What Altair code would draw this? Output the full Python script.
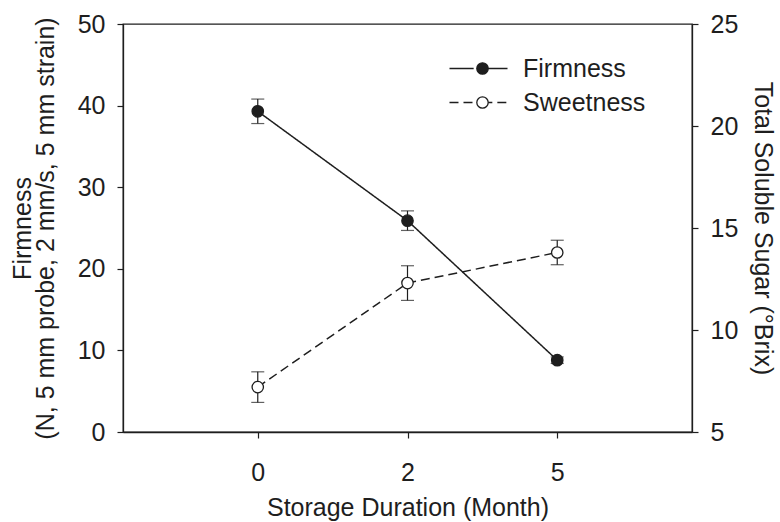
import altair as alt
import pandas as pd

# ---- data ----
months = ["0", "2", "5"]
firmness = [39.3, 25.9, 8.8]
firmness_err = [1.5, 1.2, 0.4]
sweetness = [7.2, 12.3, 13.8]
sweetness_err = [0.75, 0.85, 0.6]
series_names = ["Firmness", "Sweetness"]
# marker legend uses a distinct domain so Vega-Lite does not merge it with the line legend
marker_names = ["Firmness ", "Sweetness "]

FONT = "Liberation Sans"
INK = "#1e1e1e"
FS = 25


def frame(vals, errs, name, marker):
    return pd.DataFrame({
        "Month": months,
        "value": vals,
        "lo": [v - e for v, e in zip(vals, errs)],
        "hi": [v + e for v, e in zip(vals, errs)],
        "series": name,
        "marker": marker,
    })


df_f = frame(firmness, firmness_err, series_names[0], marker_names[0])
df_s = frame(sweetness, sweetness_err, series_names[1], marker_names[1])

x_enc = alt.X(
    "Month:O", sort=months,
    scale=alt.Scale(type="point", padding=0.9),
    axis=alt.Axis(title="Storage Duration (Month)", labelAngle=0,
                  labelPadding=22, titlePadding=10),
)

dash_scale = alt.Scale(domain=series_names, range=[[1, 0], [9, 5]])
fill_scale = alt.Scale(domain=marker_names, range=[INK, "white"])

line_legend = alt.Legend(
    title=None, orient="none", legendX=343, legendY=32,
    symbolType="M-3,0H-0.5M0.5,0H3", symbolSize=374,
    symbolStrokeColor=INK, symbolStrokeWidth=1.5,
    labelFont=FONT, labelFontSize=FS, labelColor=INK, labelOffset=32,
    rowPadding=8, padding=0,
)
point_legend = alt.Legend(
    title=None, orient="none", legendX=347, legendY=32,
    symbolType="circle", symbolSize=130,
    symbolStrokeColor=INK, symbolStrokeWidth=1.3,
    labelFont=FONT, labelFontSize=FS, labelExpr="''",
    rowPadding=8, padding=0,
)


def layer(df, y_scale, y_axis):
    base = alt.Chart(df)
    y = alt.Y("value:Q", scale=y_scale, axis=y_axis)
    line = base.mark_line(color=INK, strokeWidth=1.5).encode(
        x=x_enc, y=y,
        strokeDash=alt.StrokeDash("series:N", scale=dash_scale, legend=line_legend),
    )
    rule = base.mark_rule(color=INK, strokeWidth=1.2).encode(
        x=x_enc, y=alt.Y("lo:Q"), y2="hi:Q")
    cap_lo = base.mark_tick(color=INK, thickness=1.2, size=13, orient="horizontal").encode(
        x=x_enc, y=alt.Y("lo:Q"))
    cap_hi = base.mark_tick(color=INK, thickness=1.2, size=13, orient="horizontal").encode(
        x=x_enc, y=alt.Y("hi:Q"))
    pts = base.mark_point(filled=True, stroke=INK, strokeWidth=1.3, size=130, opacity=1).encode(
        x=x_enc, y=y,
        fill=alt.Fill("marker:N", scale=fill_scale, legend=point_legend),
    )
    return alt.layer(line, rule, cap_lo, cap_hi, pts)


left = layer(
    df_f,
    alt.Scale(domain=[0, 50], nice=False, zero=False),
    alt.Axis(orient="left", values=[0, 10, 20, 30, 40, 50],
             title=["Firmness", "(N, 5 mm probe, 2 mm/s, 5 mm strain)"],
             titleLineHeight=23, labelPadding=12, titlePadding=19),
)
right = layer(
    df_s,
    alt.Scale(domain=[5, 25], nice=False, zero=False),
    alt.Axis(orient="right", values=[5, 10, 15, 20, 25],
             title="Total Soluble Sugar (°Brix)",
             labelPadding=12, titlePadding=12),
)

chart = (
    alt.layer(left, right)
    .resolve_scale(y="independent")
    .properties(
        width=569, height=408,
        autosize=alt.AutoSizeParams(type="none"),
        padding={"left": 123, "top": 24, "right": 88, "bottom": 90},
        background="white",
    )
    .configure_view(stroke=INK, strokeWidth=1.3)
    .configure_axis(
        grid=False,
        domainColor=INK, domainWidth=1.3,
        tickColor=INK, tickSize=6, tickWidth=1.2,
        labelFont=FONT, labelFontSize=FS, labelColor=INK,
        titleFont=FONT, titleFontSize=FS, titleFontWeight="normal", titleColor=INK,
    )
)

chart.save("out.html", embed_options={"renderer": "svg", "actions": False})
